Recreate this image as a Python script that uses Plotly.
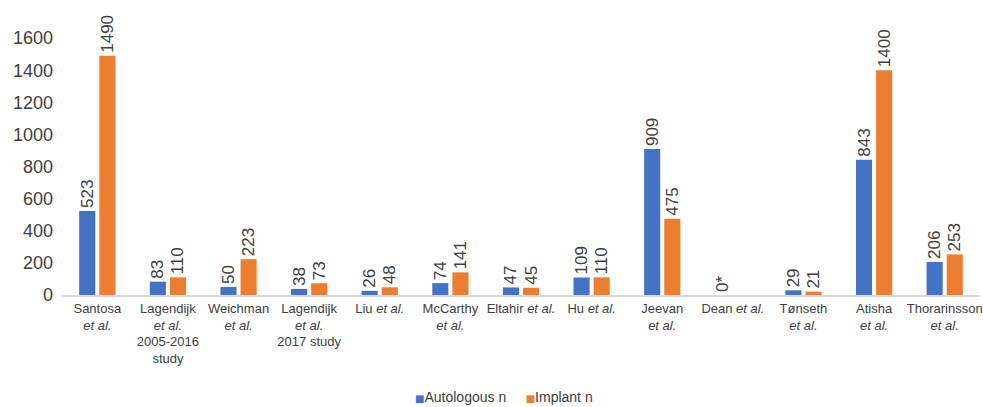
import plotly.graph_objects as go

categories = [
    "Santosa<br><i>et al.</i>",
    "Lagendijk<br><i>et al.</i><br>2005-2016<br>study",
    "Weichman<br><i>et al.</i>",
    "Lagendijk<br><i>et al.</i><br>2017 study",
    "Liu <i>et al.</i>",
    "McCarthy<br><i>et al.</i>",
    "Eltahir <i>et al.</i>",
    "Hu <i>et al.</i>",
    "Jeevan<br><i>et al.</i>",
    "Dean <i>et al.</i>",
    "Tønseth<br><i>et al.</i>",
    "Atisha<br><i>et al.</i>",
    "Thorarinsson<br><i>et al.</i>",
]
autologous_n = [523, 83, 50, 38, 26, 74, 47, 109, 909, 0, 29, 843, 206]
implant_n = [1490, 110, 223, 73, 48, 141, 45, 110, 475, 0, 21, 1400, 253]
autologous_labels = ["523", "83", "50", "38", "26", "74", "47", "109", "909", "0*", "29", "843", "206"]
implant_labels = ["1490", "110", "223", "73", "48", "141", "45", "110", "475", "", "21", "1400", "253"]
y_ticks = [0, 200, 400, 600, 800, 1000, 1200, 1400, 1600]
series_names = ["Autologous n", "Implant n"]
series_colors = ["#4472C4", "#ED7D31"]

FONT = "Liberation Sans, Arial, sans-serif"
TXT = "#404040"
x_idx = list(range(len(categories)))

fig = go.Figure()
for name, vals, labels, color in zip(series_names, [autologous_n, implant_n],
                                     [autologous_labels, implant_labels], series_colors):
    fig.add_trace(go.Bar(
        name=name, x=x_idx, y=vals, text=labels,
        textposition="outside", textangle=-90, cliponaxis=False,
        constraintext="none",
        marker=dict(color=color, line=dict(width=0)),
        textfont=dict(size=17, color=TXT, family=FONT),
        showlegend=False,
    ))

legend_text = "&nbsp;&nbsp;&nbsp;&nbsp;&nbsp;".join(
    f"<span style='color:{c}; font-family:DejaVu Sans; font-size:10px'>■</span>{n}"
    for n, c in zip(series_names, series_colors)
)
fig.add_annotation(
    text=legend_text, xref="paper", yref="paper", x=0.481, y=-0.358,
    xanchor="center", yanchor="middle", showarrow=False,
    font=dict(size=14, color=TXT, family=FONT),
)

fig.update_layout(
    width=983, height=407,
    margin=dict(l=62, r=3, t=10, b=112, autoexpand=False),
    paper_bgcolor="white", plot_bgcolor="white",
    barmode="group", bargap=0.43, bargroupgap=0.2,
    font=dict(family=FONT, color=TXT),
    showlegend=False,
)
fig.update_xaxes(
    tickmode="array", tickvals=x_idx, ticktext=categories,
    range=[-0.5, len(categories) - 0.5], automargin=False,
    showline=True, linecolor="#D9D9D9", linewidth=2,
    showgrid=False, ticks="", zeroline=False,
    tickfont=dict(size=13, color=TXT, family=FONT),
    tickangle=0,
)
fig.update_yaxes(
    range=[0, 1775], tickvals=y_ticks, ticktext=[str(v) for v in y_ticks],
    showgrid=False, zeroline=False, showline=False, ticks="", automargin=False,
    ticklabelstandoff=8,
    tickfont=dict(size=18, color=TXT, family=FONT),
)

fig.write_html("out.html")
